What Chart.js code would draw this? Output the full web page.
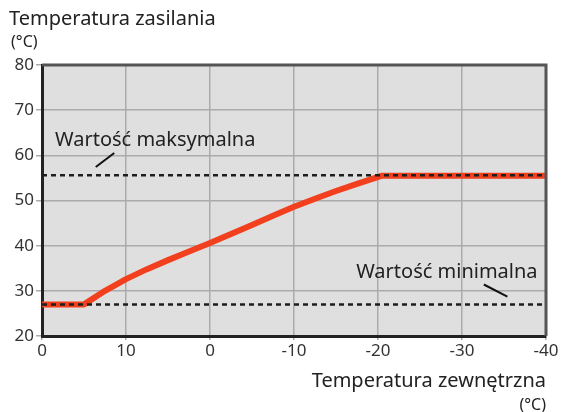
<!DOCTYPE html>
<html>
<head>
<meta charset="utf-8">
<script src="https://cdn.jsdelivr.net/npm/chart.js@4/dist/chart.umd.min.js"></script>
<style>
  html, body { margin: 0; padding: 0; background: #fff; }
  #wrap { position: relative; width: 561px; height: 412px; font-family: "Noto Sans", sans-serif; color: #222; }
  #curve { position: absolute; left: 0; top: 0; }
  .lbl { position: absolute; white-space: nowrap; line-height: 1; }
  #y-title { left: 9px; top: 8px; font-size: 20px; }
  #y-unit { left: 11px; top: 33px; font-size: 16px; }
  #x-title { right: 15px; top: 370px; font-size: 20px; }
  #x-unit { right: 15px; top: 396px; font-size: 16px; }
</style>
</head>
<body>
<div id="wrap">
  <canvas id="curve" width="561" height="412"></canvas>
  <div class="lbl" id="y-title">Temperatura zasilania</div>
  <div class="lbl" id="y-unit">(°C)</div>
  <div class="lbl" id="x-title">Temperatura zewnętrzna</div>
  <div class="lbl" id="x-unit">(°C)</div>
</div>
<script>
// heating curve: outdoor temperature -> supply temperature
const outdoorTemp = [20, 15, 12.5, 10, 7.5, 5, 2.5, 0, -2.5, -5, -7.5, -10, -12.5, -15, -17.5, -20.5, -40];
const supplyTemp  = [27, 27, 30, 32.6, 34.8, 36.8, 38.7, 40.6, 42.6, 44.6, 46.6, 48.6, 50.4, 52.1, 53.7, 55.5, 55.5];

// limits
const maxSupply = 55.6;
const minSupply = 27;
const limitRange = [20, -40];

// axis ticks
const xTickValues = [20, 10, 0, -10, -20, -30, -40];
const xTickLabels = ['0', '10', '0', '-10', '-20', '-30', '-40'];
const yTicks = [20, 30, 40, 50, 60, 70, 80];

// callouts placed in data units
const notes = [
  { text: 'Wartość maksymalna', x: 18.45, y: 63.3, line: [13.6, 57.4, 11.4, 60.5] },
  { text: 'Wartość minimalna', x: -17.4, y: 34.2, line: [-32.6, 31.4, -35.4, 28.7] },
];

const FONT = '"Noto Sans", sans-serif';

const plotFrame = {
  id: 'plotFrame',
  beforeDraw(chart) {
    const { ctx, chartArea: a } = chart;
    ctx.save();
    ctx.fillStyle = '#dfdfdf';
    ctx.fillRect(a.left, a.top, a.right - a.left, a.bottom - a.top);
    ctx.restore();
  },
  afterDatasetsDraw(chart) {
    const { ctx, chartArea: a, scales } = chart;
    ctx.save();
    // top and right edges
    ctx.strokeStyle = '#555';
    ctx.lineWidth = 3;
    ctx.beginPath();
    ctx.moveTo(a.left, a.top);
    ctx.lineTo(a.right, a.top);
    ctx.lineTo(a.right, a.bottom);
    ctx.stroke();

    // callouts
    ctx.fillStyle = '#222';
    ctx.strokeStyle = '#111';
    ctx.lineWidth = 2;
    ctx.font = '20px ' + FONT;
    ctx.textBaseline = 'middle';
    notes.forEach(n => {
      ctx.fillText(n.text, scales.x.getPixelForValue(n.x), scales.y.getPixelForValue(n.y));
      const [x1, y1, x2, y2] = n.line;
      ctx.beginPath();
      ctx.moveTo(scales.x.getPixelForValue(x1), scales.y.getPixelForValue(y1));
      ctx.lineTo(scales.x.getPixelForValue(x2), scales.y.getPixelForValue(y2));
      ctx.stroke();
    });
    ctx.restore();
  }
};

const limitLine = (value) => ({
  data: limitRange.map(x => ({ x, y: value })),
  borderColor: '#1e1e1e',
  borderWidth: 2.5,
  borderDash: [5, 4],
  pointRadius: 0,
  fill: false,
});

new Chart(document.getElementById('curve'), {
  type: 'line',
  data: {
    datasets: [
      limitLine(maxSupply),
      limitLine(minSupply),
      {
        data: outdoorTemp.map((x, i) => ({ x, y: supplyTemp[i] })),
        borderColor: '#f2401f',
        borderWidth: 6,
        pointRadius: 0,
        tension: 0,
        borderJoinStyle: 'round',
        borderCapStyle: 'butt',
        fill: false,
      },
    ]
  },
  options: {
    responsive: false,
    animation: false,
    events: [],
    layout: { padding: { top: 65, right: 15, left: 0, bottom: 0 } },
    plugins: { legend: { display: false }, tooltip: { enabled: false } },
    scales: {
      x: {
        type: 'linear',
        reverse: true,
        min: -40,
        max: 20,
        afterBuildTicks: s => { s.ticks = xTickValues.map(value => ({ value })); },
        afterFit: s => { s.height = 76; },
        grid: { color: '#ababab', lineWidth: 1.5, tickLength: 4 },
        border: { color: '#222', width: 3 },
        ticks: {
          color: '#333',
          padding: 1,
          font: { family: FONT, size: 17 },
          maxRotation: 0,
          callback: v => xTickLabels[xTickValues.indexOf(v)],
        }
      },
      y: {
        min: 20,
        max: 80,
        afterBuildTicks: s => { s.ticks = yTicks.map(value => ({ value })); },
        afterFit: s => { s.width = 42; },
        grid: { color: '#ababab', lineWidth: 1.5, tickLength: 6 },
        border: { color: '#222', width: 3 },
        ticks: {
          color: '#333',
          padding: 2,
          font: { family: FONT, size: 17 },
        }
      }
    }
  },
  plugins: [plotFrame]
});
</script>
</body>
</html>
